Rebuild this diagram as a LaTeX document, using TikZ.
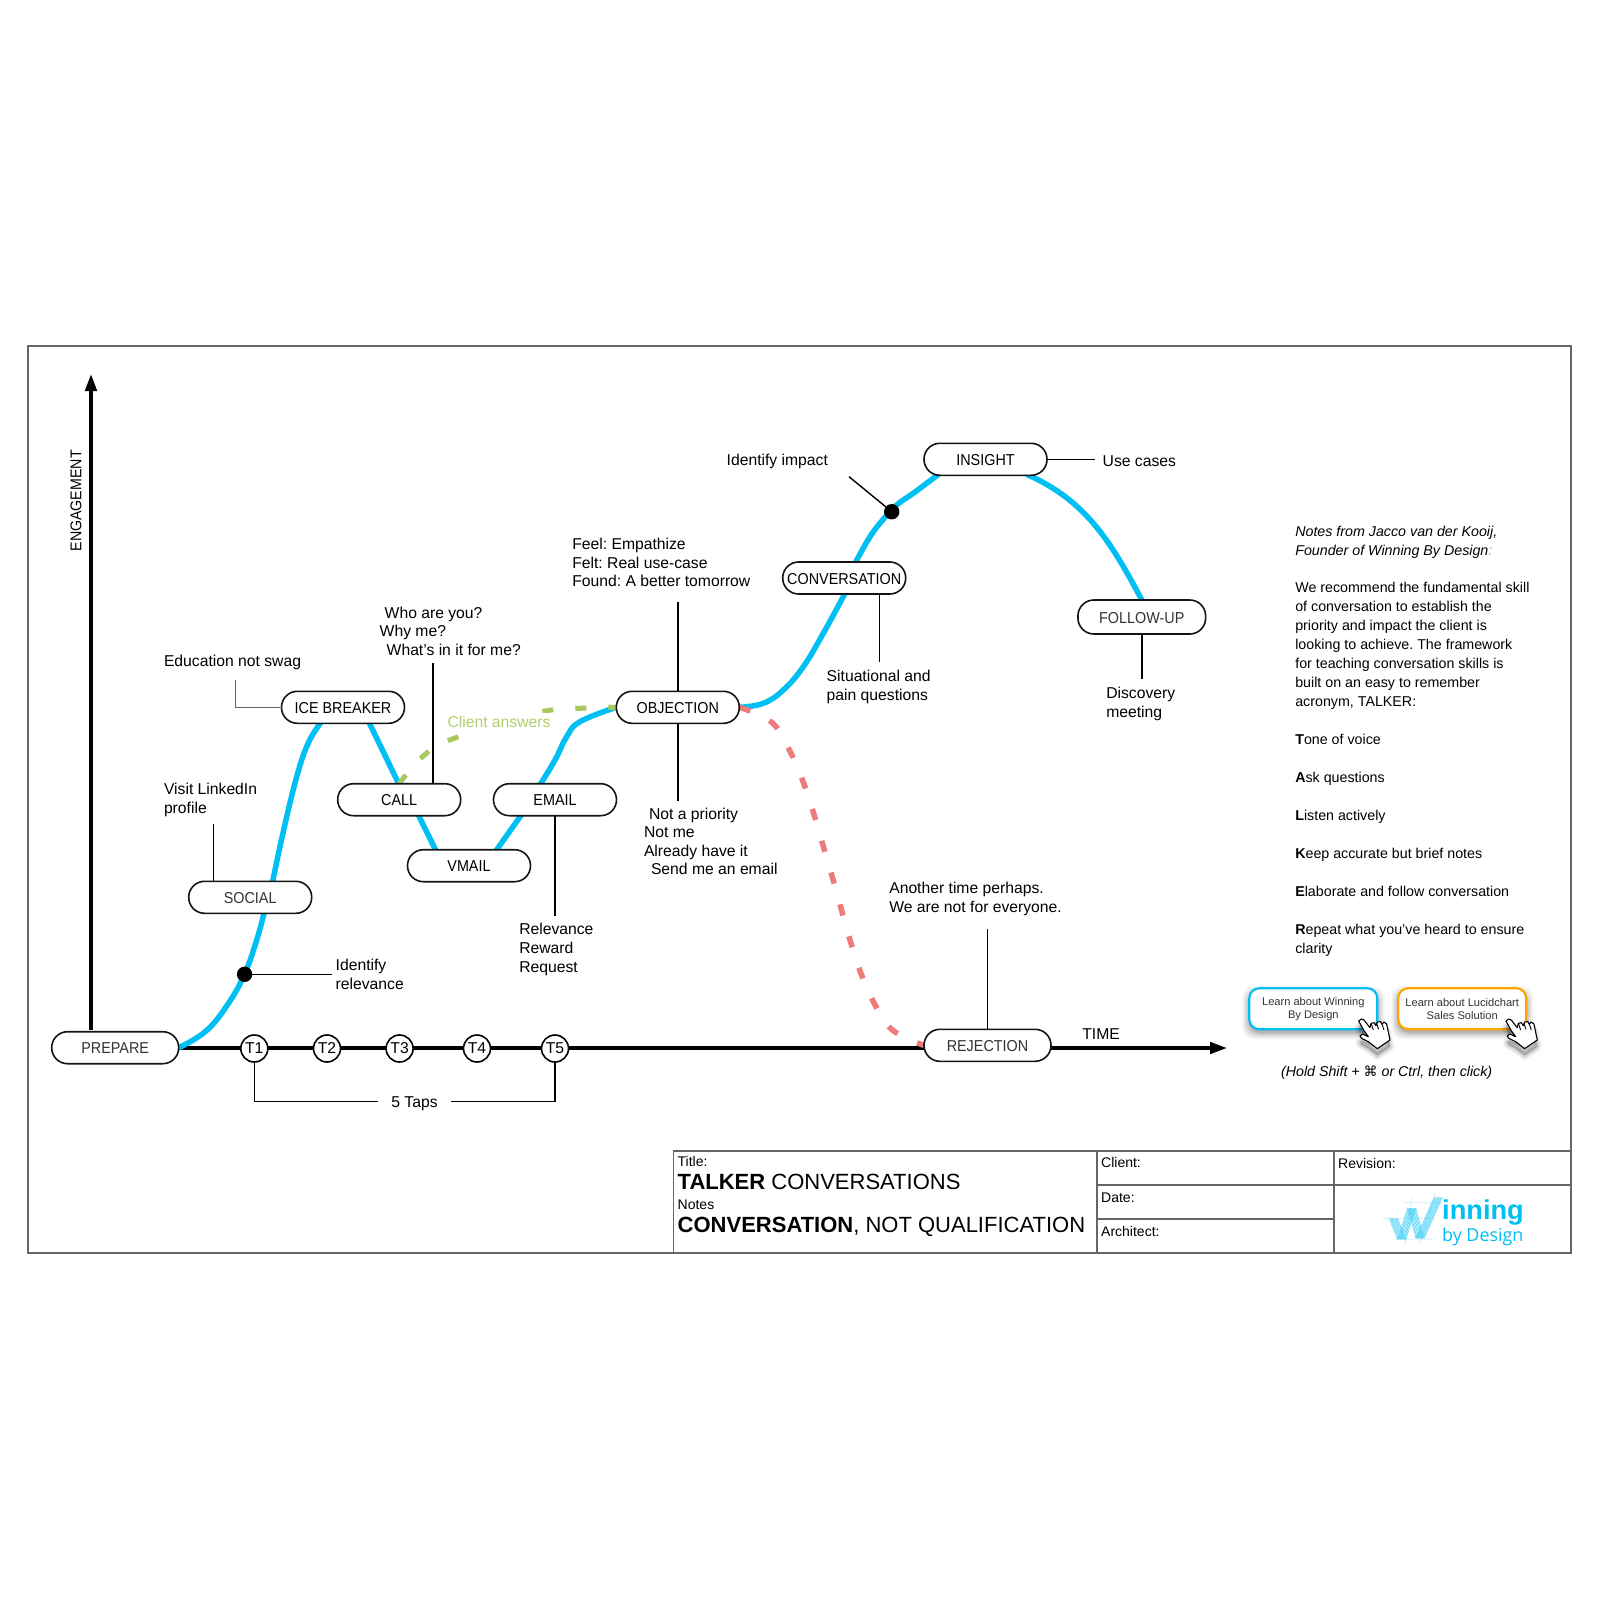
\documentclass[tikz,border=0pt]{standalone}
\usepackage{fontspec}
\setmainfont{Liberation Sans}
\newfontfamily\plainsans{Liberation Sans}
\newfontfamily\capsfont[FakeStretch=0.91]{Liberation Sans}
\newfontfamily\symfont{DejaVu Sans}
\newfontfamily\logofont{Open Sans}
\frenchspacing
\usetikzlibrary{arrows.meta,backgrounds}
\definecolor{curveblue}{HTML}{00BFF3}
\definecolor{lossred}{HTML}{EE7B7B}
\definecolor{answergreen}{HTML}{A9C85F}
\definecolor{framegray}{HTML}{666666}
\definecolor{softtext}{HTML}{333333}
\definecolor{btnorange}{HTML}{FFA500}
\newcommand{\labelfont}{\fontsize{15.7}{18.6}\selectfont}
\newcommand{\pillfont}{\capsfont\fontsize{15.8}{18}\selectfont}
\newcommand{\notefont}{\fontsize{14.25}{18.95}\selectfont}
\tikzset{
  pill/.style={draw=black!92,line width=1.6pt,fill=white,rectangle,rounded corners=15.9pt,
    minimum width=123pt,minimum height=32pt,inner sep=0pt,outer sep=0pt,font=\pillfont,text=black,
    text height=12.4pt,text depth=0pt},
  softpill/.style={pill,text=softtext},
  tap/.style={draw=black,line width=1.6pt,fill=white,circle,minimum size=27pt,inner sep=0pt,outer sep=0pt,font=\labelfont},
  lab/.style={anchor=base west,align=left,inner sep=0pt,outer sep=0pt,font=\labelfont},
  notes/.style={anchor=base west,align=left,inner sep=0pt,outer sep=0pt,font=\notefont},
  cellhead/.style={anchor=base west,inner sep=0pt,font=\plainsans\fontsize{14}{16}\selectfont},
  bigtitle/.style={anchor=base west,inner sep=0pt,font=\plainsans\fontsize{22}{24}\selectfont},
  curve/.style={draw=curveblue,line width=5.5pt},
  redlink/.style={draw=lossred,line width=5.5pt,dash pattern=on 11.5pt off 21.6pt},
  greenlink/.style={draw=answergreen,line width=5pt,dash pattern=on 11pt off 22pt},
  axisline/.style={draw=black,line width=3.6pt},
  thin/.style={draw=black,line width=1.4pt},
  thick/.style={draw=black,line width=2.2pt},
  graythin/.style={draw=framegray,line width=1.4pt},
  framing/.style={draw=framegray,line width=2pt},
  framesub/.style={draw=framegray,line width=1.6pt},
  marker/.style={fill=black,circle,minimum size=15.4pt,inner sep=0pt,outer sep=0pt},
  btn/.style={fill=white,rectangle,rounded corners=10pt,line width=2.2pt,minimum width=128pt,minimum height=41pt,
    inner sep=0pt,align=center,text=softtext,font=\plainsans\fontsize{11.1}{13}\selectfont},
}
% Pointer-hand cursor, placed by its own top-left offset
\newcommand{\handcursor}[2]{%
  \begin{scope}[shift={(#1,#2)},x=0.3333pt,y=-0.3333pt]
    \foreach \s/\o in {9/0.05,6/0.07,3/0.09}{
      \fill[black,opacity=\o,line join=round,draw=black,line width=\s pt]
        (16,23) -- (24,17) -- (32,20) -- (50,43) -- (53,30) -- (62,28) -- (68,37) -- (72,26) -- (82,25) -- (86,33)
        -- (92,26) -- (100,32) -- (110,80) -- (72,106) -- (45,85) -- (25,75) -- (20,68) -- (28,62) -- (45,70) -- (32,52) -- cycle;
    }
    \filldraw[fill=white,draw=black,line width=1.1pt,line join=round]
      (16,3) -- (24,-3) -- (32,0) -- (50,23) -- (53,10) -- (62,8) -- (68,17) -- (72,6) -- (82,5) -- (86,13)
      -- (92,6) -- (100,12) -- (110,60) -- (72,86) -- (45,65) -- (25,55) -- (20,48) -- (28,42) -- (45,50) -- (32,32) -- cycle;
    \draw[black,line width=0.9pt] (54,12) -- (60,30) (70,10) -- (76,28) (87,15) -- (92,30);
  \end{scope}}
% Soft shadow under a call-to-action button
\newcommand{\btnshadow}[4]{%
  \foreach \s/\o in {7/0.05,5/0.07,3/0.09,1/0.12}{
    \fill[black,opacity=\o,rounded corners=12pt] (#1-\s,#2+2-\s+3) rectangle (#3+\s,#4+\s+3);
  }}
\begin{document}
\begin{tikzpicture}[x=1pt,y=-1pt]
\useasboundingbox (0,0) rectangle (1600,1600);

% Sheet frame and title block
\draw[framing] (27.5,345.5) rectangle (1571,1252.7);
\draw[framesub] (673.6,1252.7) -- (673.6,1151) -- (1571,1151);
\draw[framesub] (1097,1151) -- (1097,1252.7);
\draw[framesub] (1333.7,1151) -- (1333.7,1252.7);
\draw[framesub] (1097,1185) -- (1571,1185);
\draw[framesub] (1097,1219) -- (1333.7,1219);
\node[cellhead] (ttitle) at (677.5,1166) {Title:};
\node[bigtitle] (ttalker) at (677.5,1189) {\textbf{TALKER} CONVERSATIONS};
\node[cellhead] (tnotes) at (677.5,1209) {Notes};
\node[bigtitle] (tconv) at (677.5,1232) {\textbf{CONVERSATION}, NOT QUALIFICATION};
\node[cellhead] (tclient) at (1101,1167.5) {Client:};
\node[cellhead] (tdate) at (1101,1202) {Date:};
\node[cellhead] (tarch) at (1101,1236) {Architect:};
\node[cellhead] (trev) at (1338,1168) {Revision:};

% Company mark: sketched W with construction lines
\begin{scope}[shift={(1370,1180)},x=0.3333pt,y=-0.3333pt]
  \draw[curveblue!22,line width=0.8pt] (35,115) -- (190,115) (100,68) -- (215,68) (75,178) -- (190,178)
    (125,55) -- (105,190) (195,40) -- (150,190);
  \foreach \d in {-12,-8,...,12}{
    \draw[curveblue!70,opacity=0.75,line width=0.9pt] (70+\d,115) -- (95+\d,178);
    \draw[curveblue!70,opacity=0.75,line width=0.9pt] (95+\d,178) -- (125+\d,85);
    \draw[curveblue!70,opacity=0.75,line width=0.9pt] (125+\d,85) -- (150+\d,175);
    \draw[curveblue!70,opacity=0.75,line width=0.9pt] (150+\d,175) -- (205+\d,52);
  }
\end{scope}
\node[anchor=base west,inner sep=0pt,text=curveblue,font=\plainsans\bfseries\fontsize{27.2}{30}\selectfont] (logoa) at (1442,1219.3) {inning};
\node[anchor=base west,inner sep=0pt,text=curveblue,font=\logofont\fontsize{17.9}{20}\selectfont] (logob) at (1442,1241) {by Design};

% Stage nodes
\node[softpill,minimum width=127pt] (prepare) at (115.2,1047.7) {PREPARE};
\node[softpill] (social) at (250.2,897.3) {SOCIAL};
\node[pill] (ice) at (343,707.3) {ICE BREAKER};
\node[pill] (call) at (399.2,799.7) {CALL};
\node[pill] (vmail) at (469,865.7) {VMAIL};
\node[pill] (email) at (555,799.7) {EMAIL};
\node[pill] (objection) at (677.8,707.3) {OBJECTION};
\node[pill] (conversation) at (844.2,578) {CONVERSATION};
\node[pill] (insight) at (985.5,459.3) {INSIGHT};
\node[softpill,minimum width=127.7pt,minimum height=34pt] (followup) at (1141.8,617) {FOLLOW-UP};
\node[softpill,minimum width=127pt] (rejection) at (987.5,1045.3) {REJECTION};

% Axes, curve and dashed branches run beneath the nodes
\coordinate (yaxisfoot) at (91,1030);
\coordinate (yaxistop) at (91,374);
\coordinate (xaxisend) at (1227,1048);
\begin{scope}[on background layer]
  \fill[white] (0,0) rectangle (1600,1600);
  \draw[axisline,-{Triangle[length=17pt,width=11.4pt]}] (yaxisfoot) -- (yaxistop);
  \draw[axisline] (prepare.east |- 0,1048) -- (rejection.west |- 0,1048);
  \draw[axisline,-{Triangle[length=17pt,width=11.4pt]}] (rejection.east |- 0,1048) -- (xaxisend);

  \draw[curve] plot[smooth,tension=0.7] coordinates {(prepare.east) (206,1031) (228,1004) (244.6,974) (256.7,940) (social.south -| 264,0)};
  \draw[curve] plot[smooth,tension=0.7] coordinates {(social.north -| 272.7,0) (283,833) (296.7,776.7) (308.3,743) ([xshift=-22pt,yshift=1pt]ice.south)};
  \draw[curve] ([xshift=26pt,yshift=1pt]ice.south) -- ([yshift=-1pt]call.north);
  \draw[curve] ([xshift=19pt,yshift=1pt]call.south) -- ([xshift=-33pt,yshift=-1pt]vmail.north);
  \draw[curve] ([xshift=27pt,yshift=-1pt]vmail.north) -- ([xshift=-33.5pt,yshift=1pt]email.south);
  \draw[curve] plot[smooth,tension=0.7] coordinates {([xshift=-15pt,yshift=-1pt]email.north) (555,760) (566.7,736.7) (580,721.7) (objection.west)};
  \draw[curve] plot[smooth,tension=0.7] coordinates {(objection.east) (763.3,703.3) (783.3,690) (803.3,666.7) (823.3,633.3) ([xshift=1pt,yshift=1pt]conversation.south)};
  \draw[curve] plot[smooth,tension=0.7] coordinates {([xshift=11pt,yshift=-1pt]conversation.north) (870,536.7) (883.3,519.3) (896.7,505) (915,492) ([xshift=-47pt,yshift=1pt]insight.south)};
  \draw[curve] ([xshift=41pt,yshift=1pt]insight.south) .. controls (1085,500) and (1110,540) .. (followup.north);

  \draw[greenlink] plot[smooth,tension=0.7] coordinates {(call.north) (423.3,756) (451.7,739.3) (515,719) (546.7,710.7) (580,708.3) (objection.west)};
  \draw[redlink] plot[smooth,tension=0.7] coordinates {(objection.east) (771.7,722.3) (789.3,750) (802.7,780.7) (813.3,812.3) (822.7,844.3) (832,876) (841,908.3) (850,940) (860.3,971.7) (873.7,1002.3) (892,1029.7) (rejection.west)};
\end{scope}
\node[rotate=90,inner sep=0pt,font=\capsfont\fontsize{15.6}{16}\selectfont] (engagement) at (76,500.8) {ENGAGEMENT};
\node[anchor=base west,inner sep=0pt,fill=white,text=answergreen!90!white,font=\labelfont,text height=14pt,text depth=6pt] (answers) at (447.3,727.3) {Client answers};

% Touch points along the time axis
\node[tap] (t1) at (254.3,1048.5) {\raisebox{1.5pt}{T1}};
\node[tap] (t2) at (327,1048.5) {\raisebox{1.5pt}{T2}};
\node[tap] (t3) at (399.6,1048.5) {\raisebox{1.5pt}{T3}};
\node[tap] (t4) at (477,1048.5) {\raisebox{1.5pt}{T4}};
\node[tap] (t5) at (555,1048.5) {\raisebox{1.5pt}{T5}};
\node[inner sep=0pt,minimum width=71.8pt,font=\labelfont,text height=12pt,text depth=0pt] (taps) at (414.5,1101.3) {5 Taps};
\draw[thin] (t1.south) |- (taps.west);
\draw[thick,line width=1.6pt] (t5.south) |- (taps.east);

% Markers on the curve
\node[marker] (dotrel) at (244.6,974.3) {};
\node[marker] (dotimp) at (891.7,511.7) {};

% Free ends of the callout lines
\coordinate (cedu) at (235.3,680);
\coordinate (cvisit) at (213.3,824.3);
\coordinate (crel) at (331.8,974.3);
\coordinate (cwho) at (432.7,663.3);
\coordinate (cfeel) at (677.7,602);
\coordinate (cnot) at (677.7,801);
\coordinate (crelev) at (555,915.7);
\coordinate (csit) at (879.3,662.3);
\coordinate (cimp) at (849,476.7);
\coordinate (cuse) at (1095,459.3);
\coordinate (cdisc) at (1142,679.3);
\coordinate (canother) at (987.5,929);

\draw[graythin] (cedu) |- (ice.west);
\draw[thin] (cvisit) -- (cvisit |- social.north);
\draw[thin] (dotrel) -- (crel);
\draw[thick] (cwho) -- (cwho |- call.north);
\draw[thick] (cfeel) -- (cfeel |- objection.north);
\draw[thick] (cnot) -- (cnot |- objection.south);
\draw[thick] (crelev) -- (email.south);
\draw[thin] (csit) -- (csit |- conversation.south);
\draw[thin] (cimp) -- (dotimp);
\draw[thin] (insight.east) -- (cuse);
\draw[thick] (cdisc) -- (cdisc |- followup.south);
\draw[thin] (canother) -- (rejection.north);

% Callout texts (each anchored on its last baseline)
\node[lab] (ledu) at (164,666.5) {Education not swag};
\node[lab] (lvisit) at (164,813.5) {Visit LinkedIn\\profile};
\node[lab] (lrel) at (335.7,989.5) {Identify\\relevance};
\node[lab] (lwho) at (379.7,655.5) {\hspace*{5pt}Who are you?\\Why me?\\\hspace*{7pt}What's in it for me?};
\node[lab] (lfeel) at (572.3,586.8) {Feel: Empathize\\Felt: Real use-case\\Found: A better tomorrow};
\node[lab] (lnot) at (644,874.8) {\hspace*{5pt}Not a priority\\Not me\\Already have it\\\hspace*{7pt}Send me an email};
\node[lab] (lrelev) at (519.3,972) {Relevance\\Reward\\Request};
\node[lab] (lsit) at (826.7,700.3) {Situational and\\pain questions};
\node[lab] (limp) at (726.7,465.3) {Identify impact};
\node[lab] (luse) at (1102.7,466) {Use cases};
\node[lab] (ldisc) at (1106.3,717.5) {Discovery\\meeting};
\node[lab] (lanother) at (889.3,912.5) {Another time perhaps.\\We are not for everyone.};
\node[lab] (ltime) at (1082.3,1039.5) {TIME};

% Notes column
\node[notes] (notes) at (1295.3,953) {\textit{Notes from Jacco van der Kooij,}\\\textit{Founder of Winning By Design}\textcolor{black!40}{\textit{:}}\\[18.95pt]
We recommend the fundamental skill\\of conversation to establish the\\priority and impact the client is\\looking to achieve. The framework\\for teaching conversation skills is\\built on an easy to remember\\acronym, TALKER:\\[18.95pt]
\textbf{T}one of voice\\[18.95pt]\textbf{A}sk questions\\[18.95pt]\textbf{L}isten actively\\[18.95pt]\textbf{K}eep accurate but brief notes\\[18.95pt]\textbf{E}laborate and follow conversation\\[18.95pt]\textbf{R}epeat what you've heard to ensure\\clarity};

% Link buttons with cursors
\btnshadow{1249.3}{988.3}{1377.3}{1029}
\btnshadow{1398.3}{988.3}{1526}{1029}
\node[btn,draw=curveblue] (btnw) at (1313.3,1008.7) {Learn about Winning\\By Design};
\node[btn,draw=btnorange] (btnl) at (1462.2,1008.7) {Learn about Lucidchart\\Sales Solution};
\handcursor{1353.3}{1020}
\handcursor{1500.6}{1020}
\node[anchor=base west,inner sep=0pt,font=\plainsans\itshape\fontsize{14.2}{16}\selectfont] (hold) at (1281,1076) {(Hold Shift + {\symfont\upshape\fontsize{14}{16}\selectfont ⌘} or Ctrl, then click)};
\end{tikzpicture}
\end{document}
